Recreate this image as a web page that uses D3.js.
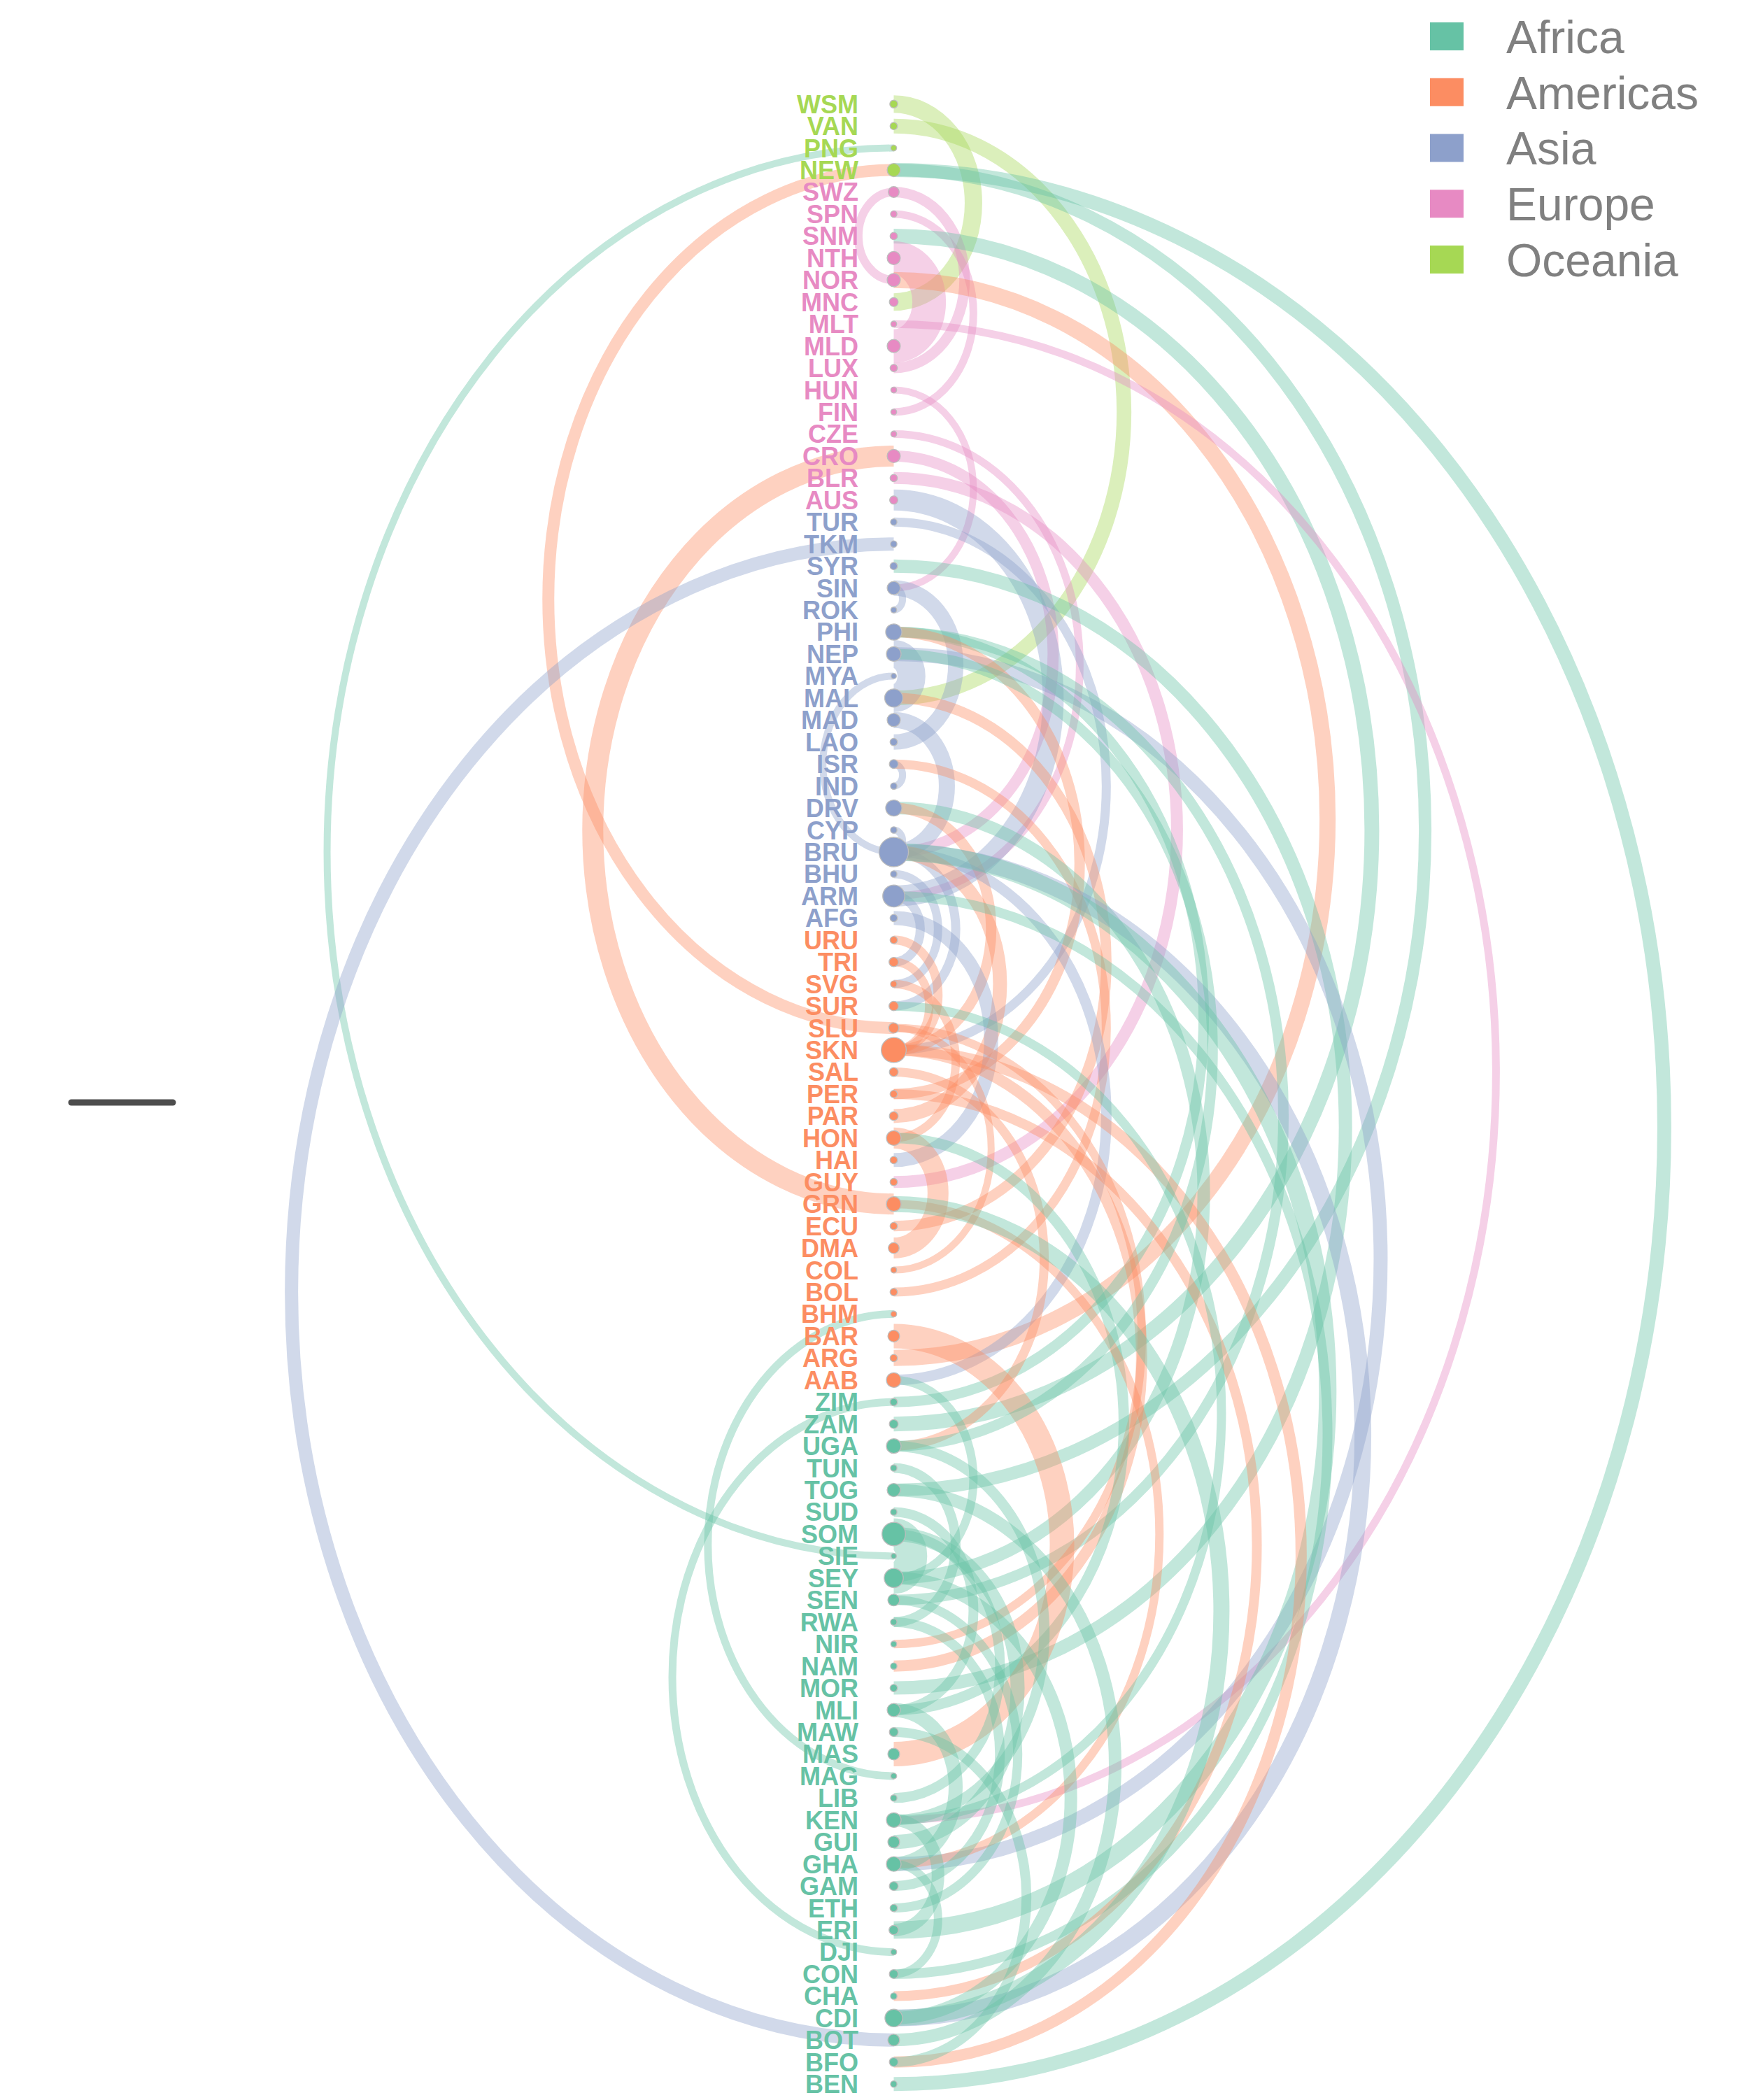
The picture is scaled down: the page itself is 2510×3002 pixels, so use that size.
<!DOCTYPE html>
<html><head><meta charset="utf-8">
<script src="https://cdn.jsdelivr.net/npm/d3@7/dist/d3.min.js"></script>
<style>html,body{margin:0;padding:0;background:#fff;}svg{display:block;}</style>
</head><body>
<svg id="chart" width="2510" height="3002"></svg>
<script>
// ---------- data ----------
const regions = ["Africa", "Americas", "Asia", "Europe", "Oceania"];
const regionColors = ["#66c2a5", "#fc8d62", "#8da0cb", "#e78ac3", "#a6d854"];

// nodes listed from top to bottom
const nodeNames = ["WSM","VAN","PNG","NEW",
  "SWZ","SPN","SNM","NTH","NOR","MNC","MLT","MLD","LUX","HUN","FIN","CZE","CRO","BLR","AUS",
  "TUR","TKM","SYR","SIN","ROK","PHI","NEP","MYA","MAL","MAD","LAO","ISR","IND","DRV","CYP","BRU","BHU","ARM","AFG",
  "URU","TRI","SVG","SUR","SLU","SKN","SAL","PER","PAR","HON","HAI","GUY","GRN","ECU","DMA","COL","BOL","BHM","BAR","ARG","AAB",
  "ZIM","ZAM","UGA","TUN","TOG","SUD","SOM","SIE","SEY","SEN","RWA","NIR","NAM","MOR","MLI","MAW","MAS","MAG","LIB","KEN","GUI","GHA","GAM","ETH","ERI","DJI","CON","CHA","CDI","BOT","BFO","BEN"];
const nodeRegion = [
  "Oceania","Oceania","Oceania","Oceania",
  "Europe","Europe","Europe","Europe","Europe","Europe","Europe","Europe","Europe","Europe","Europe","Europe","Europe","Europe","Europe",
  "Asia","Asia","Asia","Asia","Asia","Asia","Asia","Asia","Asia","Asia","Asia","Asia","Asia","Asia","Asia","Asia","Asia","Asia","Asia",
  "Americas","Americas","Americas","Americas","Americas","Americas","Americas","Americas","Americas","Americas","Americas","Americas","Americas","Americas","Americas","Americas","Americas","Americas","Americas","Americas","Americas",
  "Africa","Africa","Africa","Africa","Africa","Africa","Africa","Africa","Africa","Africa","Africa","Africa","Africa","Africa","Africa","Africa","Africa","Africa","Africa","Africa","Africa","Africa","Africa","Africa","Africa","Africa","Africa","Africa","Africa","Africa","Africa","Africa"];
// node strength
const nodeStrength = [
  2.7,2.5,2,4.5,
  3.7,2.2,2.5,4.5,4.5,3,2,4.5,2.5,2,2,2,4.5,2.5,2.8,
  2.2,2.2,2.5,4.5,2,5.5,5,1.8,6.2,4.5,2.5,3,2.2,5.5,2.2,10,2.2,7.5,2.5,
  2.5,3.2,2.2,3.2,3.5,8.5,3,2.5,3,5,2.5,2.5,5,2.5,3.7,2,2.5,2,4,2.5,5,
  2.5,3,5,2.2,4.5,2.2,8,1.8,6.5,4,2.2,2,2.2,2.5,4.5,3,4,2,2.2,5,4,5,3,2.5,3.2,2,3,2.2,6,4,3,2.2];

// edges: colour follows the first node
const edgeFrom = ["WSM","VAN","SIE","BEN","TOG","SLU","SWZ","SWZ","SPN","ZAM","NTH","ARG","MLT","HUN","GRN","BLR","CZE","CRO",
  "ARM","TUR","TKM","MOR","SIN","SIN","NEP","NEP","MYA","SEN","ZIM","PER","ECU","MAD","ISR","BOL","SEY","SKN","CYP","BRU","BRU","BRU","PAR","ERI","BHU","ARM","CON","AFG",
  "URU","TRI","SVG","SKN","SKN","SLU","SLU","SAL","PER","HON","MLI","GRN","CDI","BAR","SEY","KEN",
  "MAG","DJI","GHA","SOM","SUD","TUN","UGA","UGA","TOG","SOM","SOM","SEY","SEN","RWA","MLI","MAW","KEN"];
const edgeTo = ["MNC","MAL","PNG","NEW","NEW","NEW","NOR","LUX","FIN","SNM","MLD","NOR","KEN","SIN","CRO","GUY","ARM","BRU",
  "AUS","SKN","BOT","SYR","ROK","LAO","MAL","GHA","BRU","PHI","PHI","PHI","MAL","BRU","IND","ISR","DRV","DRV","BRU","CDI","AAB","SUR","BRU","BRU","SVG","TRI","ARM","HAI",
  "SKN","SKN","HON","BFO","NAM","NIR","COL","UGA","CHA","DMA","HON","GHA","GRN","MAS","AAB","SUR",
  "BHM","ZIM","CON","SEY","MLI","RWA","KEN","NEP","BOT","GUI","LIB","CDI","ETH","GAM","GHA","BFO","ERI"];
const edgeWeight = [5,4.2,2,4,3.6,3.4,2.4,3,2.2,4.2,9.6,4.6,2.2,2,6,3.4,2.2,3.2,
  6,2.6,3.8,3.8,2,4.4,8,4,2,3,3,3,3,4.6,2,2.6,3.6,3,2,4.8,3,2.6,4,5,2.4,2.6,2.8,4,
  2.6,2.4,2.4,3.2,3.2,2.4,2,2.6,2.8,6,3,2.4,4.6,7,2.4,2.6,
  2.2,2.2,2.4,9,2.8,2.8,3,3,3.6,4,2.8,3.6,2.6,2.8,4,2.8,3.6];
const edgeSide = ["R","R","L","R","R","L","L","R","R","R","R","R","R","R","L","R","R","R",
  "R","R","L","R","R","R","R","R","L","R","R","R","R","R","R","R","R","R","R","R","R","R","R","R","R","R","R","R",
  "R","R","R","R","R","R","R","R","R","R","R","R","R","R","R","R",
  "L","L","R","R","R","R","R","R","R","R","R","R","R","R","R","R","R"];

const legendLabels = regions;

// ---------- layout ----------
const svg = d3.select("#chart");
const colorOf = d3.scaleOrdinal().domain(regions).range(regionColors);
const regionOf = new Map(nodeNames.map((n, i) => [n, nodeRegion[i]]));

const y = d3.scalePoint().domain(nodeNames).range([148.7, 2979.2]);
const x = d3.scaleLinear().domain([-70, 90]).range([1277.5 - 70 * 12.66, 1277.5 + 90 * 12.66]);
const wScale = d3.scaleLinear().domain([0, 10]).range([0, 50]);
const rScale = d3.scaleLinear().domain([0, 10]).range([0, 21]);
const idx = new Map(nodeNames.map((n, i) => [n, i]));

const edges = edgeFrom.map((s, i) => ({ s, t: edgeTo[i], w: edgeWeight[i], side: edgeSide[i] }));

const gEdges = svg.append("g");
gEdges.selectAll("path").data(edges).join("path")
  .attr("d", d => {
    const a = idx.get(d.s), b = idx.get(d.t);
    const top = Math.min(a, b), bot = Math.max(a, b);
    const y1 = y(nodeNames[top]), y2 = y(nodeNames[bot]);
    const span = bot - top;
    const rx = Math.abs(x(span) - x(0));
    const ry = (y2 - y1) / 2;
    const sweep = d.side === "R" ? 1 : 0;
    return `M${x(0)},${y1} A${rx},${ry} 0 0 ${sweep} ${x(0)},${y2}`;
  })
  .attr("fill", "none")
  .attr("stroke", d => colorOf(regionOf.get(d.s)))
  .attr("stroke-opacity", 0.4)
  .attr("stroke-width", d => wScale(d.w));

const gNodes = svg.append("g");
gNodes.selectAll("circle").data(nodeNames).join("circle")
  .attr("cx", x(0))
  .attr("cy", d => y(d))
  .attr("r", (d, i) => rScale(nodeStrength[i]))
  .attr("fill", (d, i) => colorOf(nodeRegion[i]))
  .attr("stroke", "#bdbdbd")
  .attr("stroke-width", 1.3);

const gLabels = svg.append("g");
gLabels.selectAll("text").data(nodeNames).join("text")
  .attr("x", 1227)
  .attr("y", d => y(d))
  .attr("dy", "0.36em")
  .attr("text-anchor", "end")
  .attr("font-family", "'Liberation Sans', Arial, sans-serif")
  .attr("font-weight", "bold")
  .attr("font-size", 36)
  .attr("fill", (d, i) => colorOf(nodeRegion[i]))
  .text(d => d);

// legend
const legY = d3.scalePoint().domain(legendLabels).range([52, 371]);
const gLeg = svg.append("g");
gLeg.selectAll("rect").data(legendLabels).join("rect")
  .attr("x", 2044).attr("y", d => legY(d) - 20)
  .attr("width", 48).attr("height", 40)
  .attr("fill", d => colorOf(d));
gLeg.selectAll("text").data(legendLabels).join("text")
  .attr("x", 2153).attr("y", d => legY(d))
  .attr("dy", "0.36em")
  .attr("font-family", "'Liberation Sans', Arial, sans-serif")
  .attr("font-size", 66)
  .attr("fill", "#808080")
  .text(d => d);

// dark dash at left
svg.append("line")
  .attr("x1", 102).attr("x2", 247).attr("y1", 1576).attr("y2", 1576)
  .attr("stroke", "#4d4d4d").attr("stroke-width", 9).attr("stroke-linecap", "round");
</script>
</body></html>
